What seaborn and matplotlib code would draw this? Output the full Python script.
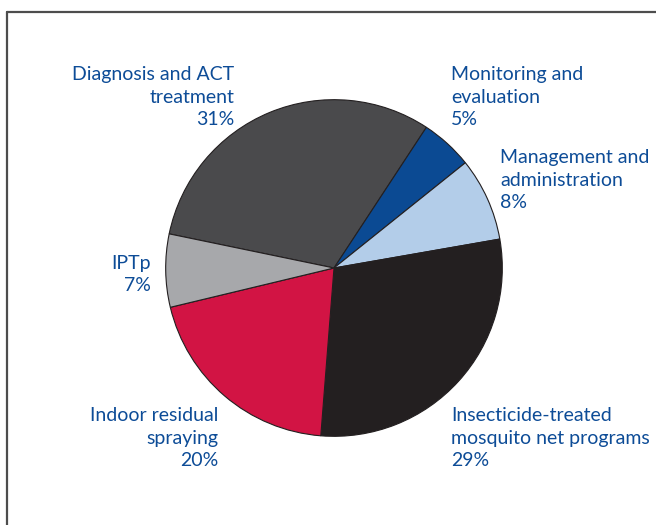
import matplotlib
matplotlib.use("Agg")
import matplotlib.pyplot as plt
import seaborn as sns
from matplotlib.lines import Line2D

sns.set_theme(style="white")
plt.rcParams['font.family'] = ['Lato', 'DejaVu Sans']

categories = ["Diagnosis and ACT\ntreatment", "Monitoring and\nevaluation",
              "Management and\nadministration", "Insecticide-treated\nmosquito net programs",
              "Indoor residual\nspraying", "IPTp"]
values = [31, 5, 8, 29, 20, 7]
colors = ["#4a4a4c", "#0b4a93", "#b3cde9", "#231f20", "#d21444", "#a7a8ab"]

W, H = 656, 525
fig = plt.figure(figsize=(W / 100, H / 100), dpi=100)
fig.patch.set_facecolor("white")

# frame lines (top and left)
fig.add_artist(Line2D([7 / W, 1.0], [1 - 12 / H, 1 - 12 / H], transform=fig.transFigure,
                      color="#4d4d4d", lw=1.6))
fig.add_artist(Line2D([7 / W, 7 / W], [1 - 12 / H, 0.0], transform=fig.transFigure,
                      color="#4d4d4d", lw=1.6))

cx, cy, r = 334, 268, 170
ax = fig.add_axes([(cx - r) / W, (H - cy - r) / H, 2 * r / W, 2 * r / H])
ax.pie(values, colors=colors, startangle=168.3, counterclock=False, radius=1,
       wedgeprops=dict(edgecolor="#231f20", linewidth=0.8))
ax.set_xlim(-1.01, 1.01)
ax.set_ylim(-1.01, 1.01)
ax.set_aspect("equal")
ax.axis("off")

txt_color = "#0d4c97"
# label anchor positions in pixels (x, last-line baseline y, alignment)
anchors = [(234, 125, "right"), (451, 125, "left"), (500, 208, "left"),
           (451, 466, "left"), (218, 466, "right"), (151, 291, "right")]
for cat, val, (x, y, ha) in zip(categories, values, anchors):
    fig.text(x / W, 1 - y / H, f"{cat}\n{val}%", ha=ha, va="baseline",
             multialignment=ha, color=txt_color, fontsize=14, linespacing=1.38)

fig.savefig("out.png", dpi=100)
